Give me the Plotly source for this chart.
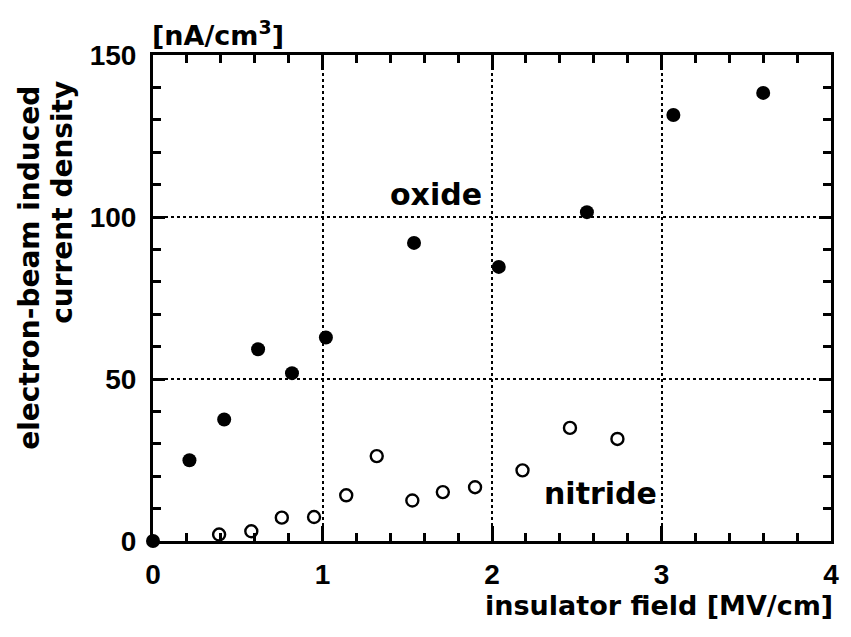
import plotly.graph_objects as go

# Oxide (filled circles)
oxide_x = [0.0, 0.215, 0.42, 0.62, 0.82, 1.02, 1.54, 2.04, 2.56, 3.07, 3.60]
oxide_y = [0.0, 24.9, 37.5, 59.2, 51.8, 62.8, 92.0, 84.6, 101.5, 131.5, 138.3]

# Nitride (open circles)
nitride_x = [0.39, 0.58, 0.76, 0.95, 1.14, 1.32, 1.53, 1.71, 1.90, 2.18, 2.46, 2.74]
nitride_y = [2.0, 3.0, 7.2, 7.4, 14.1, 26.2, 12.5, 15.1, 16.6, 21.8, 34.9, 31.5]

x_ticks = [0, 1, 2, 3, 4]
y_ticks = [0, 50, 100, 150]

TICKFONT = "Liberation Sans, Arial, Helvetica, sans-serif"
TEXTFONT = "DejaVu Sans, Verdana, sans-serif"

fig = go.Figure()
fig.add_trace(go.Scatter(x=oxide_x, y=oxide_y, mode="markers",
                         marker=dict(size=14, color="black", line=dict(width=0)),
                         cliponaxis=False, showlegend=False))
fig.add_trace(go.Scatter(x=nitride_x, y=nitride_y, mode="markers",
                         marker=dict(size=12, color="white", line=dict(width=2.4, color="black")),
                         cliponaxis=False, showlegend=False))

axis_common = dict(
    showline=True, linecolor="black", linewidth=3, mirror="ticks",
    ticks="inside", tickcolor="black", tickwidth=2.5,
    showgrid=True, gridcolor="black", gridwidth=2, griddash="dot",
    zeroline=False,
    tickfont=dict(family=TICKFONT, size=28, color="black", weight="bold"),
)

fig.update_xaxes(range=[0, 4], tickvals=x_ticks, ticktext=[str(v) for v in x_ticks],
                 ticklen=15, ticklabelstandoff=6,
                 minor=dict(dtick=0.2, tick0=0, ticks="inside", ticklen=8, tickwidth=2.5,
                            tickcolor="black", showgrid=False),
                 **axis_common)
fig.update_yaxes(range=[0, 150], tickvals=y_ticks, ticktext=[str(v) for v in y_ticks],
                 ticklen=12, ticklabelstandoff=8,
                 minor=dict(dtick=10, tick0=0, ticks="inside", ticklen=8, tickwidth=2.5,
                            tickcolor="black", showgrid=False),
                 **axis_common)

annot_font = dict(family=TEXTFONT, size=30, color="black", weight="bold")
fig.add_annotation(x=1.668, y=106.8, text="oxide", showarrow=False, font=annot_font)
fig.add_annotation(x=2.64, y=14.8, text="nitride", showarrow=False, font=annot_font)

title_font = dict(family=TEXTFONT, size=27, color="black", weight="bold")
ytitle_font = dict(family=TEXTFONT, size=28, color="black", weight="bold")
fig.add_annotation(xref="paper", yref="paper", x=1.0, y=-0.132, xanchor="right", yanchor="middle",
                   xshift=4,
                   text="insulator field [MV/cm]", showarrow=False, font=title_font)
fig.add_annotation(xref="paper", yref="paper", x=0.0, y=1.0, xanchor="left", yanchor="bottom",
                   yshift=2, xshift=-3,
                   text="[nA/cm<sup>3</sup>]", showarrow=False, font=title_font)
fig.add_annotation(xref="paper", yref="paper", x=-0.182, y=0.94, xanchor="center", yanchor="top",
                   text="electron-beam induced", showarrow=False, textangle=-90,
                   font=ytitle_font)
fig.add_annotation(xref="paper", yref="paper", x=-0.1327, y=0.95, xanchor="center", yanchor="top",
                   text="current density", showarrow=False, textangle=-90,
                   font=ytitle_font)

fig.update_layout(
    width=851, height=637,
    margin=dict(l=153, r=12, t=55, b=96),
    paper_bgcolor="white", plot_bgcolor="white",
)

fig.write_html("out.html")
